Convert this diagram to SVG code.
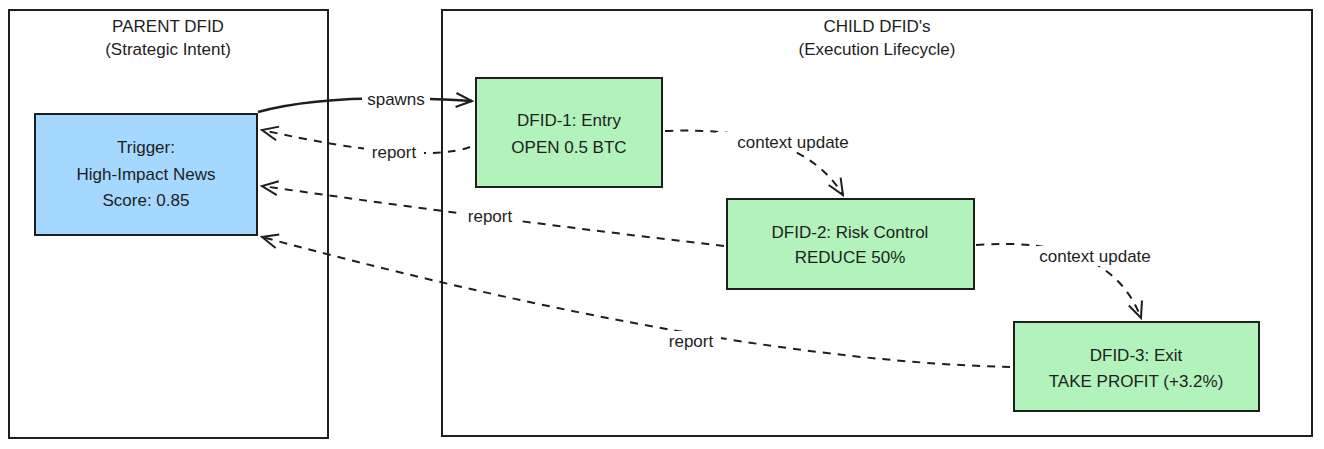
<svg xmlns="http://www.w3.org/2000/svg" width="1324" height="449" viewBox="0 0 1324 449">
<style>
text{font-family:"Liberation Sans","DejaVu Sans",sans-serif;font-size:17px;fill:#1e1e1e;text-anchor:middle}
.frame{fill:none;stroke:#1e1e1e;stroke-width:2}
.node{stroke:#1e1e1e;stroke-width:2}
.c{fill:none;stroke:#1e1e1e;stroke-width:2;stroke-dasharray:8 7}
.s{fill:none;stroke:#1e1e1e;stroke-width:2.5}
.lbl{fill:#fff}
</style>
<defs>
<marker id="a" viewBox="0 0 20 20" refX="18" refY="10" markerWidth="20" markerHeight="20" markerUnits="userSpaceOnUse" orient="auto">
<path d="M2,3 L18,10 L2,17" fill="none" stroke="#1e1e1e" stroke-width="2"/>
</marker>
</defs>
<rect width="1324" height="449" fill="#fff"/>
<g id="parent">
<rect class="frame" x="9" y="10" width="319" height="428"/>
<text x="168" y="32">PARENT DFID</text>
<text x="168" y="55">(Strategic Intent)</text>
</g>
<g id="child">
<rect class="frame" x="442" y="10" width="870" height="426"/>
<text x="877" y="32">CHILD DFID's</text>
<text x="877" y="55">(Execution Lifecycle)</text>
</g>
<g id="trigger">
<rect class="node" x="35" y="114" width="222" height="121" fill="#a5d8ff"/>
<text x="146" y="153">Trigger:</text>
<text x="146" y="180">High-Impact News</text>
<text x="146" y="206">Score: 0.85</text>
</g>
<g id="dfid1">
<rect class="node" x="476" y="78" width="186" height="109" fill="#b2f2bb"/>
<text x="569" y="126">DFID-1: Entry</text>
<text x="569" y="153">OPEN 0.5 BTC</text>
</g>
<g id="dfid2">
<rect class="node" x="727" y="199" width="247" height="90" fill="#b2f2bb"/>
<text x="850" y="238">DFID-2: Risk Control</text>
<text x="850" y="263">REDUCE 50%</text>
</g>
<g id="dfid3">
<rect class="node" x="1014" y="322" width="245" height="89" fill="#b2f2bb"/>
<text x="1136" y="361">DFID-3: Exit</text>
<text x="1136" y="387">TAKE PROFIT (+3.2%)</text>
</g>
<g id="connectors">
<path class="s" d="M258,112 Q330,92 472,101" marker-end="url(#a)"/>
<path class="c" d="M470,147 Q420,165 262,130" marker-end="url(#a)"/>
<path class="c" d="M665,131 Q800,125 843,195" marker-end="url(#a)"/>
<path class="c" d="M724,246 Q500,220 262,186" marker-end="url(#a)"/>
<path class="c" d="M976,245 Q1110,235 1141,318" marker-end="url(#a)"/>
<path class="c" d="M1010,367 Q720,360 262,237" marker-end="url(#a)"/>
<rect class="lbl" x="362" y="89" width="68" height="20"/><text x="396" y="105">spawns</text>
<rect class="lbl" x="364" y="142" width="60" height="20"/><text x="394" y="158">report</text>
<rect class="lbl" x="716" y="132" width="154" height="20"/><text x="793" y="148">context update</text>
<rect class="lbl" x="460" y="206" width="60" height="20"/><text x="490" y="222">report</text>
<rect class="lbl" x="1018" y="246" width="154" height="20"/><text x="1095" y="262">context update</text>
<rect class="lbl" x="661" y="331" width="60" height="20"/><text x="691" y="347">report</text>
</g>
</svg>
